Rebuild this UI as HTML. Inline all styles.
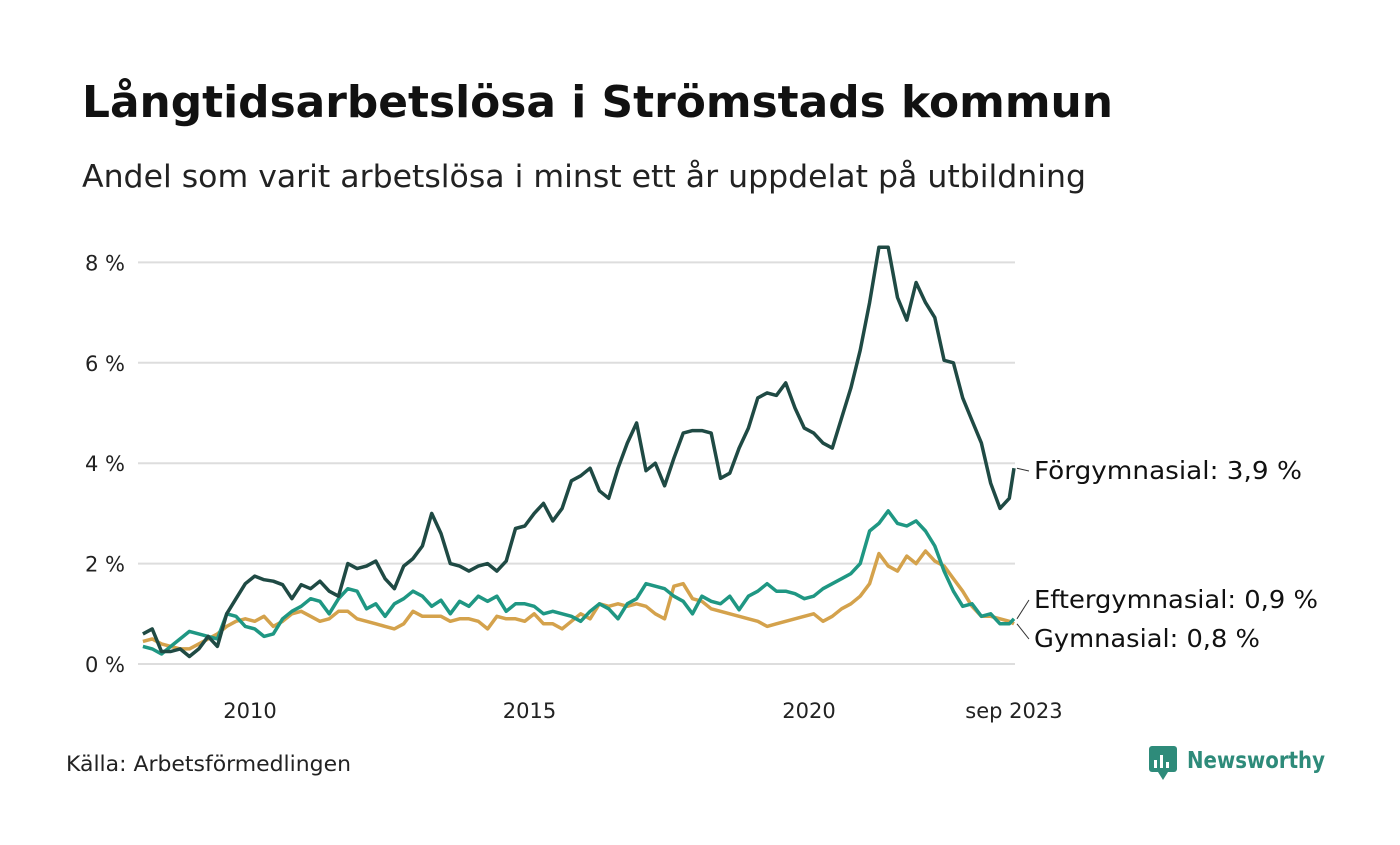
<!DOCTYPE html>
<html><head><meta charset="utf-8">
<style>
body{margin:0;background:#fff;width:1400px;height:840px;overflow:hidden;font-family:"Liberation Sans","DejaVu Sans",sans-serif;}
svg text{font-family:"DejaVu Sans","Liberation Sans",sans-serif;}
</style></head>
<body>
<svg id="chart" width="1400" height="840">
<text x="82" y="117" font-size="44" font-weight="bold" fill="#111" textLength="1031" lengthAdjust="spacingAndGlyphs">Långtidsarbetslösa i Strömstads kommun</text>
<text x="82" y="187" font-size="31" fill="#222" textLength="1004" lengthAdjust="spacingAndGlyphs">Andel som varit arbetslösa i minst ett år uppdelat på utbildning</text>
<g id="grid"></g>
<g id="series"></g>
<g id="labels"></g>
<text x="66" y="771" font-size="21" fill="#222" textLength="285" lengthAdjust="spacingAndGlyphs">Källa: Arbetsförmedlingen</text>
<g>
<rect x="1149" y="746" width="28" height="26" rx="3" fill="#2e8b7a"/>
<path d="M1158 772 L1163 780 L1168 772 Z" fill="#2e8b7a"/>
<rect x="1154" y="760" width="3" height="8" fill="#fff"/><rect x="1160" y="755" width="3" height="13" fill="#fff"/><rect x="1166" y="762" width="3" height="6" fill="#fff"/>
<text x="1187" y="768" font-size="23" font-weight="bold" fill="#2e8b7a" textLength="138" lengthAdjust="spacingAndGlyphs">Newsworthy</text>
</g>
</svg>
<script>
const yTicks=[0,2,4,6,8];
const xTickYears=[2010,2015,2020];
const startYear=2008+1/12;
const forgym=[0.6,0.7,0.25,0.25,0.3,0.15,0.3,0.55,0.35,1.0,1.3,1.6,1.75,1.68,1.65,1.58,1.3,1.58,1.5,1.65,1.45,1.35,2.0,1.9,1.95,2.05,1.7,1.5,1.95,2.1,2.35,3.0,2.6,2.0,1.95,1.85,1.95,2.0,1.85,2.05,2.7,2.75,3.0,3.2,2.85,3.1,3.65,3.75,3.9,3.45,3.3,3.9,4.4,4.8,3.85,4.0,3.55,4.1,4.6,4.65,4.65,4.6,3.7,3.8,4.3,4.7,5.3,5.4,5.35,5.6,5.1,4.7,4.6,4.4,4.3,4.9,5.5,6.25,7.2,8.3,8.3,7.3,6.85,7.6,7.2,6.9,6.05,6.0,5.3,4.85,4.4,3.6,3.1,3.3,3.9];
const eftergym=[0.35,0.3,0.2,0.35,0.5,0.65,0.6,0.55,0.5,1.0,0.95,0.75,0.7,0.55,0.6,0.9,1.05,1.15,1.3,1.25,1.0,1.3,1.5,1.45,1.1,1.2,0.95,1.2,1.3,1.45,1.35,1.15,1.27,1.0,1.25,1.15,1.35,1.25,1.35,1.05,1.2,1.2,1.15,1.0,1.05,1.0,0.95,0.85,1.05,1.2,1.1,0.9,1.2,1.3,1.6,1.55,1.5,1.35,1.25,1.0,1.35,1.25,1.2,1.35,1.08,1.35,1.45,1.6,1.45,1.45,1.4,1.3,1.35,1.5,1.6,1.7,1.8,2.0,2.65,2.8,3.05,2.8,2.75,2.85,2.65,2.35,1.85,1.45,1.15,1.2,0.95,1.0,0.8,0.8,0.9];
const gym=[0.45,0.5,0.4,0.35,0.3,0.3,0.4,0.5,0.6,0.75,0.85,0.9,0.85,0.95,0.75,0.85,1.0,1.05,0.95,0.85,0.9,1.05,1.05,0.9,0.85,0.8,0.75,0.7,0.8,1.05,0.95,0.95,0.95,0.85,0.9,0.9,0.85,0.7,0.95,0.9,0.9,0.85,1.0,0.8,0.8,0.7,0.85,1.0,0.9,1.2,1.15,1.2,1.15,1.2,1.15,1.0,0.9,1.55,1.6,1.3,1.25,1.1,1.05,1.0,0.95,0.9,0.85,0.75,0.8,0.85,0.9,0.95,1.0,0.85,0.95,1.1,1.2,1.35,1.6,2.2,1.95,1.85,2.15,2.0,2.25,2.05,1.95,1.7,1.45,1.15,0.95,0.95,0.9,0.85,0.8];
const NS='http://www.w3.org/2000/svg';
const X=y=>250+(y-2010)*55.9;
const Y=v=>664-v*50.2;
function dates(n){const d=[];for(let i=0;i<n-1;i++)d.push(startYear+i*2/12);d.push(d[n-2]+1/12);return d;}
function mk(t,a,p){const e=document.createElementNS(NS,t);for(const k in a)e.setAttribute(k,a[k]);p.appendChild(e);return e;}
const grid=document.getElementById('grid');
yTicks.forEach(v=>{
 const l=mk('line',{x1:138,x2:1015,y1:Y(v),y2:Y(v),stroke:'#ddd','stroke-width':2},grid);
 
 
 const t=mk('text',{x:125,y:Y(v)+8,'font-size':21,fill:'#222','text-anchor':'end'},grid);
 t.textContent=v+' %';
 
 
});
xTickYears.forEach(yr=>{
 const t=mk('text',{x:X(yr),y:718,'font-size':21,fill:'#222','text-anchor':'middle'},grid);
 t.textContent=yr;
 
 
});
const lastT=mk('text',{x:X(2023+8/12),y:718,'font-size':21,fill:'#222','text-anchor':'middle'},grid);
lastT.textContent='sep 2023';


const sg=document.getElementById('series');
function line(data,color,name){
 const d=dates(data.length);
 const p=mk('polyline',{points:data.map((v,i)=>X(d[i]).toFixed(1)+','+Y(v).toFixed(1)).join(' '),fill:'none',stroke:color,'stroke-width':3.5,'stroke-linejoin':'round'},sg);
 
 
}
line(gym,'#d4a24c','line-gymnasial');
line(eftergym,'#1f9783','line-eftergymnasial');
line(forgym,'#1f4a44','line-forgymnasial');
const lg=document.getElementById('labels');
function lab(txt,v,ly,name,w){
 const lx=X(2023+8/12);
 mk('line',{x1:lx+3,y1:Y(v),x2:lx+15,y2:ly-8,stroke:'#333','stroke-width':1},lg);
 const t=mk('text',{x:lx+20,y:ly,'font-size':25,fill:'#111',textLength:w,lengthAdjust:'spacingAndGlyphs'},lg);
 t.textContent=txt;
 
 
}
lab('Förgymnasial: 3,9 %',forgym[forgym.length-1],479,'label-forgymnasial',268);
lab('Eftergymnasial: 0,9 %',eftergym[eftergym.length-1],608,'label-eftergymnasial',284);
lab('Gymnasial: 0,8 %',gym[gym.length-1],647,'label-gymnasial',226);
</script>
</body></html>
